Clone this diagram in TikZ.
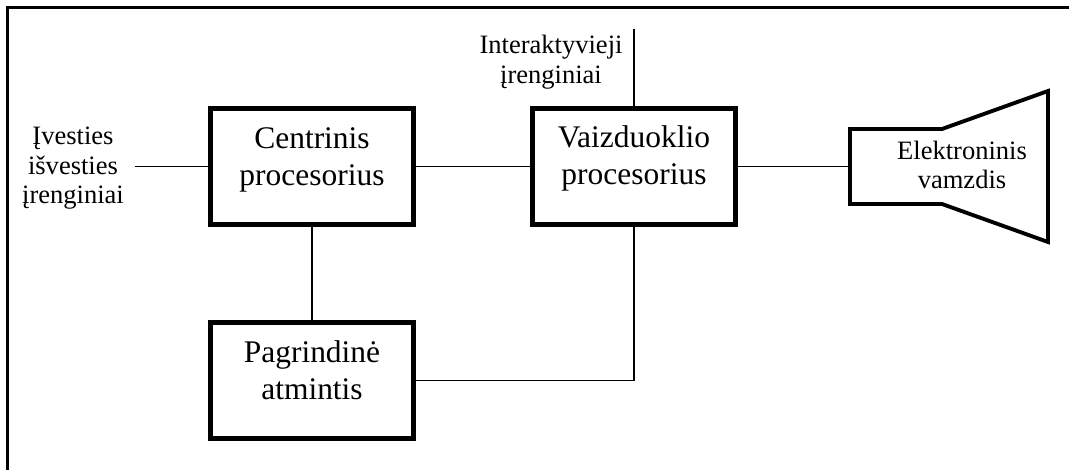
\documentclass[tikz,border=0pt]{standalone}
\usepackage{fontspec}
\setmainfont{Liberation Serif}
\begin{document}
\begin{tikzpicture}[x=0.75pt,y=-0.75pt,
  block/.style={draw, rectangle, line width=3.4pt, inner sep=0pt, outer sep=0pt,
    minimum width=203.5*0.75pt, minimum height=116.5*0.75pt},
  bigtext/.style={align=center, inner sep=0pt, font=\fontsize{23.6pt}{27.75pt}\selectfont},
  smalltext/.style={align=center, inner sep=0pt, font=\fontsize{19.9pt}{22.1pt}\selectfont},
  wire/.style={line width=1.1pt},
  frameline/.style={line width=1.6pt},
  tubeline/.style={line width=2.9pt, line join=miter}]

\useasboundingbox (0,0) rectangle (1069,470);

% page frame (left and top edges)
\draw[frameline] (7.5,470) -- (7.5,7.5) -- (1069,7.5);

% main blocks
\node[block] (cpu) at (312,166.5) {};
\node[block] (vp)  at (634,166.5) {};
\node[block] (mem) at (312,380.5) {};

\node[bigtext] (cputxt) at (312,159.5) {Centrinis\\procesorius};
\node[bigtext] (vptxt)  at (634,158.5) {Vaizduoklio\\procesorius};
\node[bigtext] (memtxt) at (312,369.75) {Pagrindinė\\atmintis};

% side labels
\node[smalltext] (io)    at (73,168.3) {Įvesties\\išvesties\\įrenginiai};
\node[smalltext] (inter) at (551,62) {Interaktyvieji\\įrenginiai};

% picture tube
\draw[tubeline] (850,129) -- (942,129) -- (1048,91) -- (1048,242)
  -- (942,204) -- (850,204) -- cycle;
\node[smalltext, font=\fontsize{19.9pt}{21.75pt}\selectfont] (crt) at (962,164.5) {Elektroninis\\vamzdis};

% free ends of connectors
\coordinate (ioend) at (135,166.5);
\coordinate (intertop) at (634,29);
\coordinate (crtin) at (850,166.5);

% connectors
\draw[wire] (ioend) -- (cpu.west);
\draw[wire] (cpu.east) -- (vp.west);
\draw[wire] (vp.east) -- (crtin);
\draw[wire] (intertop) -- (vp.north);
\draw[wire] (cpu.south) -- (mem.north);
\draw[wire] (vp.south) |- (mem.east);
\end{tikzpicture}
\end{document}
